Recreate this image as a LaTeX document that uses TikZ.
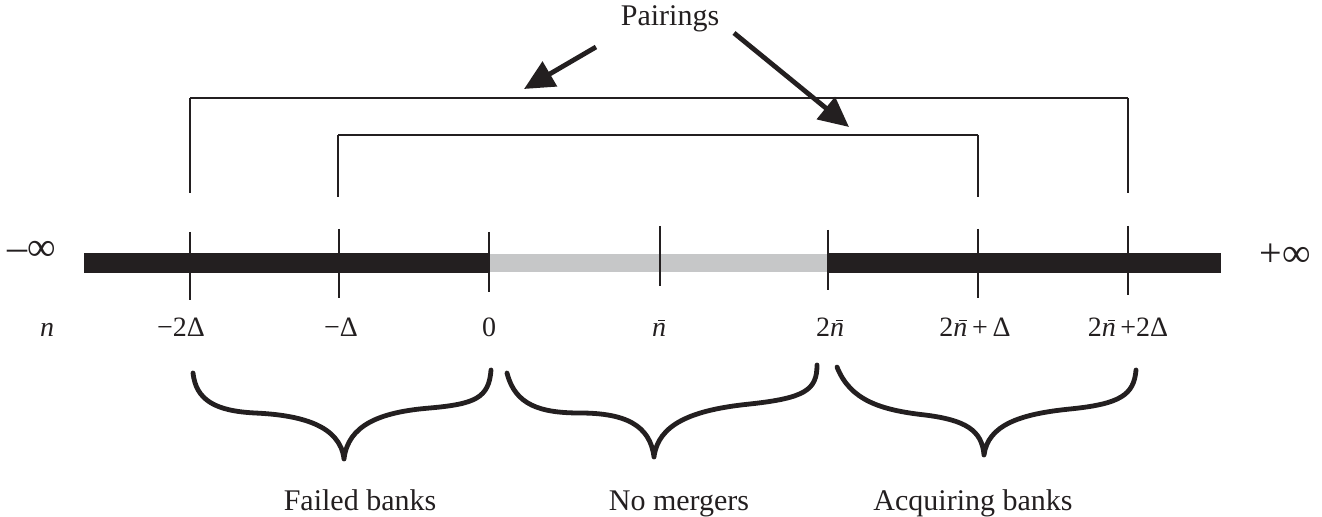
\documentclass[tikz,border=0pt]{standalone}
\usepackage{fontspec}
\setmainfont{Liberation Serif}
\usetikzlibrary{arrows.meta}

% italic n with an overbar
\newcommand\nb{\textit{n}\llap{\rule[0.56em]{0.27em}{0.05em}\kern0.02em}}

\definecolor{ink}{HTML}{231F20}
\definecolor{midgray}{HTML}{C6C7C8}

\tikzset{
  axislabel/.style={anchor=base, inner sep=0pt, text=ink, font=\fontsize{14}{16}\selectfont},
  caption/.style={anchor=base, inner sep=0pt, text=ink, font=\fontsize{15}{18}\selectfont},
  endlabel/.style={anchor=base, inner sep=0pt, text=ink, font=\fontsize{20}{22}\selectfont},
  tickline/.style={draw=ink, line width=1pt},
  spanline/.style={draw=ink, line width=1.2pt},
  legline/.style={draw=ink, line width=0.8pt},
  pointer/.style={draw=ink, line width=2.4pt, -{Triangle[length=15pt,width=14pt]}},
  curly/.style={draw=ink, line width=2.4pt, line cap=round, line join=round},
}

\begin{document}
\begin{tikzpicture}[x=0.5pt, y=-0.5pt]
\useasboundingbox (0,0) rectangle (1322,517);

% the number line
\fill[ink] (84,253) rectangle (489,273);
\fill[midgray] (489,254) rectangle (828,272);
\fill[ink] (828,253) rectangle (1221,273);

% ticks
\draw[tickline] (190,232) -- (190,300);
\draw[tickline] (339,229) -- (339,298);
\draw[tickline] (489,232) -- (489,292);
\draw[tickline] (660,226) -- (660,286);
\draw[tickline] (828,230) -- (828,290);
\draw[tickline] (978,229) -- (978,298);
\draw[tickline] (1128,226) -- (1128,295);

% ends of the line
\node[endlabel] (minf) at (32,261) {–∞};
\node[endlabel] (pinf) at (1285,267) {+∞};

% values along the line
\node[axislabel] (lblN)   at (47,337)   {\textit{n}};
\node[axislabel] (lblm2)  at (181,337)  {−2Δ};
\node[axislabel] (lblm1)  at (341,337)  {−Δ};
\node[axislabel] (lbl0)   at (489,337)  {0};
\node[axislabel] (lblnb)  at (659,337)  {\nb};
\node[axislabel] (lbl2n)  at (830,337)  {2\nb};
\node[axislabel] (lbl2n1) at (975,337)  {2\nb\,+\,Δ};
\node[axislabel] (lbl2n2) at (1128,337) {2\nb\,+2Δ};

% pairing brackets
\draw[spanline] (190,98) -- (1128,98);
\draw[legline] (190,98) -- (190,193);
\draw[legline] (1128,98) -- (1128,193);
\draw[spanline] (338,135) -- (978,135);
\draw[legline] (338,135) -- (338,197);
\draw[legline] (978,135) -- (978,197);

% label with its two pointers
\node[caption] (pair) at (670,26) {Pairings};
\coordinate (ptA) at (596,47);
\coordinate (tipA) at (524,89);
\coordinate (ptB) at (734,33);
\coordinate (tipB) at (849,127);
\draw[pointer] (ptA) -- (tipA);
\draw[pointer] (ptB) -- (tipB);

% curly braces under the line
\draw[curly] (193,373) .. controls (196,400) and (215,411) .. (255,413)
  .. controls (300,415) and (340,425) .. (344,459)
  .. controls (348,425) and (380,412) .. (430,408)
  .. controls (475,404) and (489,398) .. (491,370);
\draw[curly] (507,373) .. controls (515,405) and (540,413) .. (580,413)
  .. controls (625,413) and (650,425) .. (654,457)
  .. controls (658,425) and (690,410) .. (750,404)
  .. controls (805,398) and (817,390) .. (817,365);
\draw[curly] (837,367) .. controls (850,400) and (880,410) .. (925,415)
  .. controls (965,420) and (982,430) .. (984,455)
  .. controls (988,425) and (1020,414) .. (1070,409)
  .. controls (1120,404) and (1134,395) .. (1136,370);

% group captions
\node[caption] (failed) at (360,511) {Failed banks};
\node[caption] (nomerge) at (679,511) {No mergers};
\node[caption] (acquire) at (973,511) {Acquiring banks};
\end{tikzpicture}
\end{document}
